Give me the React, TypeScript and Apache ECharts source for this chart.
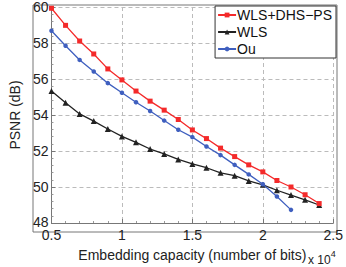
import React, { useEffect, useRef } from "react";
import * as echarts from "echarts";

const capacity = [0.5, 0.6, 0.7, 0.8, 0.9, 1.0, 1.1, 1.2, 1.3, 1.4, 1.5, 1.6, 1.7, 1.8, 1.9, 2.0, 2.1, 2.2, 2.3, 2.4];
const wlsDhsPs = [59.93, 58.98, 58.11, 57.39, 56.56, 55.95, 55.33, 54.77, 54.27, 53.75, 53.17, 52.69, 52.16, 51.69, 51.23, 50.84, 50.36, 50.0, 49.57, 49.08];
const wls = [55.33, 54.68, 54.06, 53.66, 53.22, 52.81, 52.48, 52.11, 51.84, 51.53, 51.28, 51.07, 50.79, 50.63, 50.34, 50.12, 49.82, 49.55, 49.29, 49.0];
const ou = [58.68, 57.85, 57.06, 56.42, 55.77, 55.24, 54.71, 54.22, 53.69, 53.18, 52.77, 52.25, 51.77, 51.23, 50.7, 50.15, 49.47, 48.73];

const seriesNames = ["WLS+DHS\u2212PS", "WLS", "Ou"];
const colors = ["#f42a2a", "#222222", "#3f5fbf"];

const FONT = "'Liberation Sans', Arial, sans-serif";

export default function App() {
  const ref = useRef<HTMLDivElement>(null);
  useEffect(() => {
    if (!ref.current) return;
    const chart = echarts.init(ref.current, null, { renderer: "svg" });
    const mk = (vals: number[]) => vals.map((v, i) => [capacity[i], v]);
    chart.setOption({
      animation: false,
      textStyle: { fontFamily: FONT },
      grid: { left: 33, right: 9, top: 5, bottom: 35, show: false },
      legend: {
        orient: "vertical",
        right: 10,
        top: 6,
        itemWidth: 18,
        itemHeight: 6,
        itemGap: 3,
        padding: [2, 4, 2, 2],
        borderColor: "#333",
        borderWidth: 1,
        backgroundColor: "#fff",
        textStyle: { fontSize: 14, color: "#111", fontFamily: FONT, padding: [0, 0, 0, -4] },
        data: seriesNames,
      },
      xAxis: {
        type: "value",
        min: 0.5,
        max: 2.5,
        interval: 0.5,
        name: "Embedding capacity (number of bits)",
        nameLocation: "middle",
        nameGap: 25,
        nameTextStyle: { fontSize: 14, color: "#222", fontFamily: FONT },
        axisLine: { show: true, lineStyle: { color: "#777" } },
        axisTick: { show: true, inside: true, length: 4, lineStyle: { color: "#777" } },
        minorTick: { show: true, splitNumber: 5, length: 2, lineStyle: { color: "#999" } },
        axisLabel: { fontSize: 14, color: "#222", margin: 5, formatter: (v: number) => String(v) },
        splitLine: { show: true, lineStyle: { color: "#bbb", type: [4, 3] } },
      },
      yAxis: {
        type: "value",
        min: 48,
        max: 60,
        interval: 2,
        name: "PSNR (dB)",
        nameLocation: "middle",
        nameGap: 25,
        nameTextStyle: { fontSize: 14, color: "#222", fontFamily: FONT },
        axisLine: { show: true, lineStyle: { color: "#777" } },
        axisTick: { show: true, inside: true, length: 4, lineStyle: { color: "#777" } },
        minorTick: { show: true, splitNumber: 5, length: 2, lineStyle: { color: "#999" } },
        axisLabel: {
          fontSize: 14,
          color: "#222",
          margin: 3,
          formatter: (v: number) => (v === 48 ? "{low|48}" : String(v)),
          rich: { low: { fontSize: 14, color: "#222", fontFamily: FONT, padding: [0, 0, 3, 0] } },
        },
        splitLine: { show: true, lineStyle: { color: "#bbb", type: [4, 3] } },
      },
      graphic: [
        {
          type: "rect",
          shape: { x: 33, y: 5, width: 304, height: 227 },
          style: { fill: "none", stroke: "#777", lineWidth: 1 },
          silent: true,
          z: 0,
        },
        {
          type: "text",
          x: 308,
          y: 248,
          style: {
            text: "{a|x 10}{b|4}",
            rich: {
              a: { fontSize: 12, fill: "#222", fontFamily: FONT, padding: [6, 0, 0, 0] },
              b: { fontSize: 9, fill: "#222", fontFamily: FONT, padding: [0, 0, 6, 0] },
            },
          },
        },
      ],
      series: [
        {
          name: seriesNames[0],
          type: "line",
          data: mk(wlsDhsPs),
          symbol: "rect",
          symbolSize: 5,
          showAllSymbol: true,
          lineStyle: { color: colors[0], width: 1.3 },
          itemStyle: { color: colors[0] },
          z: 4,
        },
        {
          name: seriesNames[1],
          type: "line",
          data: mk(wls),
          symbol: "triangle",
          symbolSize: 6,
          showAllSymbol: true,
          lineStyle: { color: colors[1], width: 1.3 },
          itemStyle: { color: colors[1] },
          z: 3,
        },
        {
          name: seriesNames[2],
          type: "line",
          data: mk(ou),
          symbol: "circle",
          symbolSize: 4.5,
          showAllSymbol: true,
          lineStyle: { color: colors[2], width: 1.3 },
          itemStyle: { color: colors[2] },
          z: 5,
        },
      ],
    });
    return () => chart.dispose();
  }, []);
  return <div ref={ref} style={{ width: 346, height: 267, position: "absolute", left: 0, top: 0 }} />;
}
